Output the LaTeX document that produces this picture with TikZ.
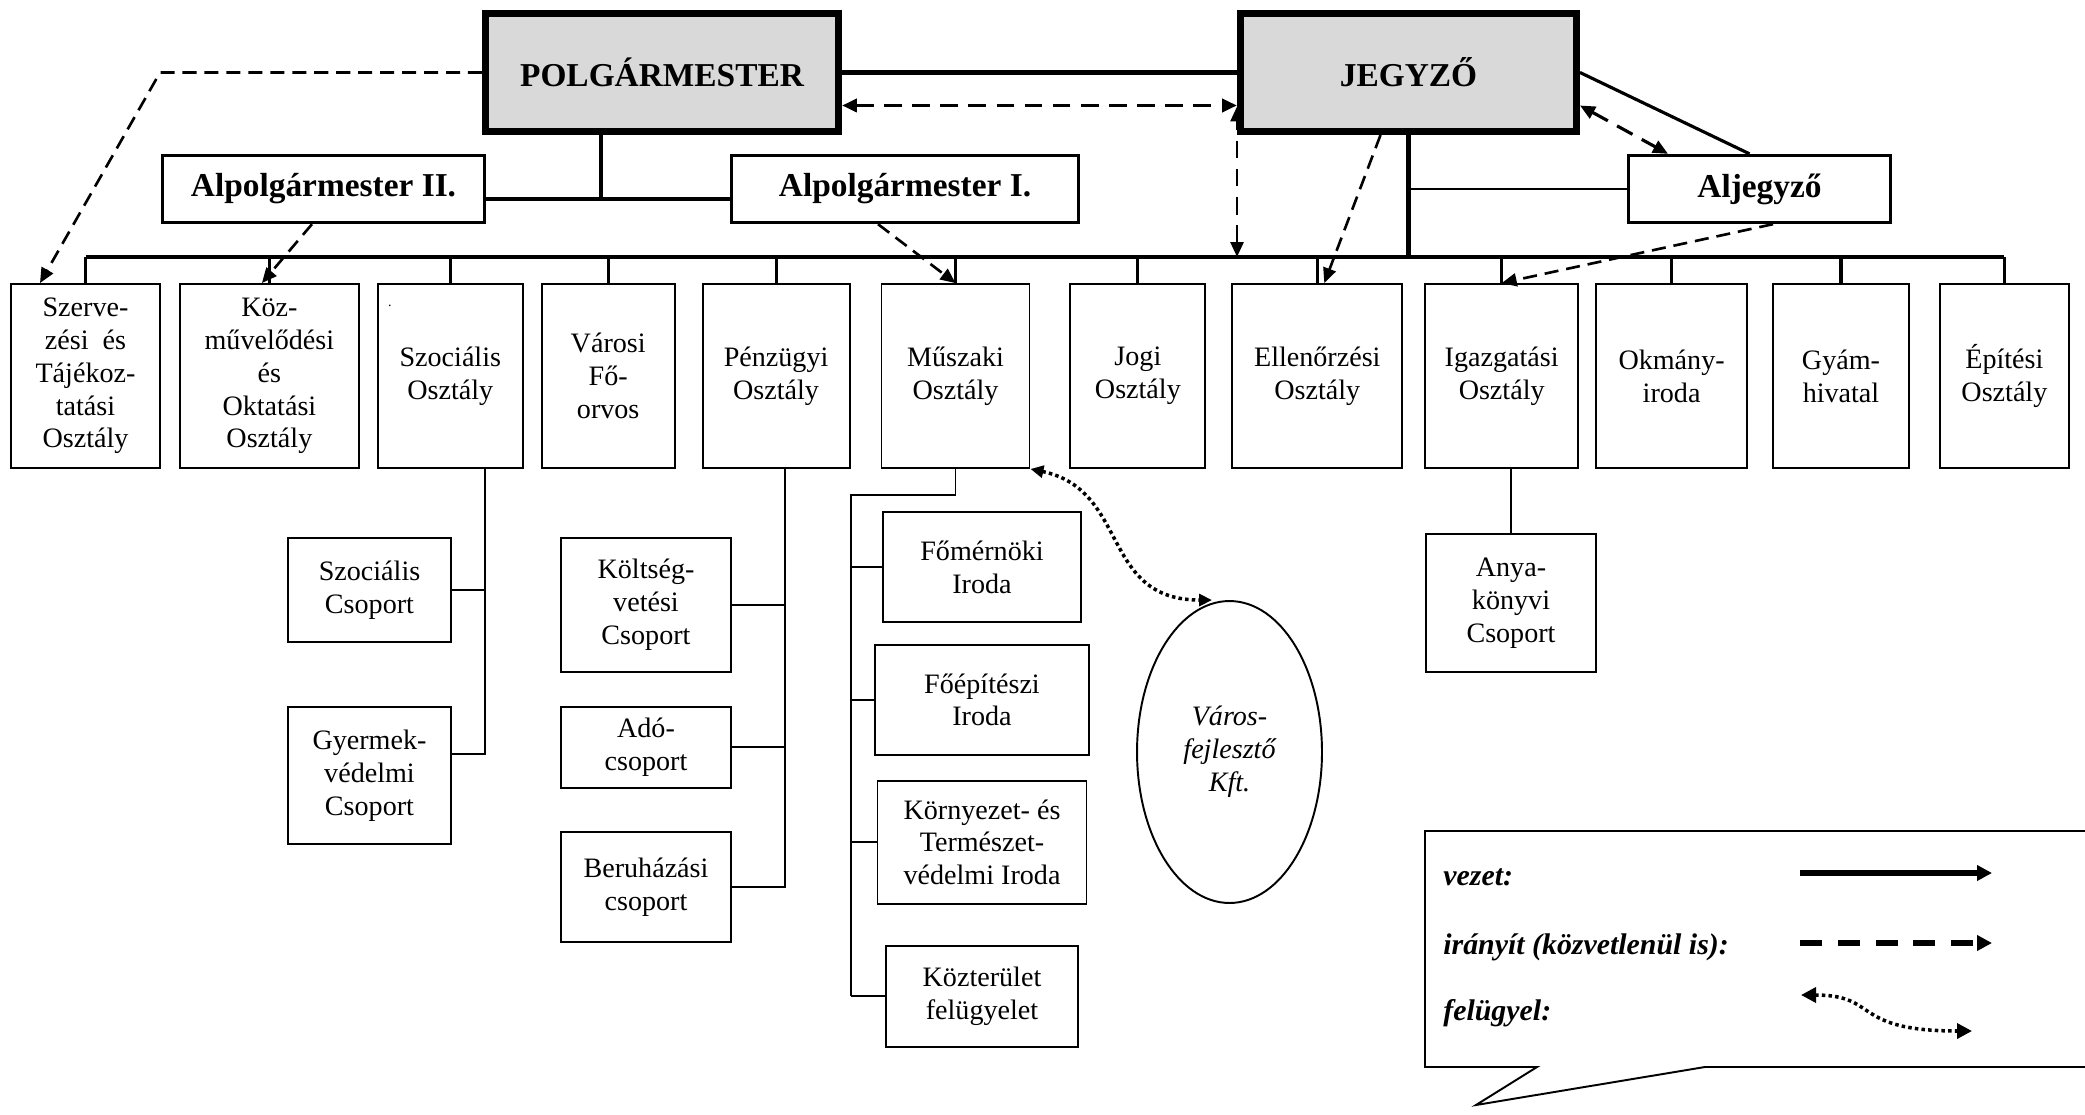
\documentclass[tikz,border=0pt]{standalone}
\usepackage{fontspec}
\setmainfont{Liberation Serif}
\usetikzlibrary{positioning,shapes.geometric,arrows.meta}
\definecolor{boxgray}{HTML}{D9D9D9}

\begin{document}
\begin{tikzpicture}[x=0.02cm, y=-0.02cm, node distance=4mm]
        \tikzstyle{every node}=[font=\fontsize{16}{18.7}\selectfont, align=center, inner sep=0pt]
        \tikzstyle{chief}=[draw, line width=4pt, fill=boxgray, minimum height=23.6mm, font=\bfseries\fontsize{19}{22}\selectfont]
        \tikzstyle{deputy}=[draw, line width=1.9pt, fill=white, minimum height=13.4mm, font=\bfseries\fontsize{19}{22}\selectfont]
        \tikzstyle{dept}=[draw, line width=1.1pt, minimum height=36.8mm]
        \tikzstyle{subbox}=[draw, line width=1.1pt]
        \tikzstyle{vezet}=[line width=1.8pt]
        \tikzstyle{ag}=[line width=1.1pt]
        \tikzstyle{iranyit}=[line width=1.5pt, dash pattern=on 8pt off 4.5pt, -{Triangle[length=3mm,width=2.6mm]}]
        \tikzstyle{iranyitboth}=[line width=2.2pt, dash pattern=on 10pt off 6pt, {Triangle[length=3mm,width=2.6mm]}-{Triangle[length=3mm,width=2.6mm]}]
        \tikzstyle{felugyel}=[line width=2pt, dash pattern=on 2pt off 1.8pt, {Triangle[length=2.6mm,width=2.4mm]}-{Triangle[length=2.6mm,width=2.4mm]}]
        \tikzstyle{legendtext}=[font=\bfseries\itshape\fontsize{17}{20}\selectfont, anchor=base west]

        \useasboundingbox (0,0) rectangle (2085,1115);

        % vezetes
        \node[chief, minimum width=70.6mm] (polg) at (662,72.5) {POLGÁRMESTER};
        \node[chief, minimum width=67.2mm] (jegy) at (1408.5,72.5) {JEGYZŐ};
        \node[deputy, minimum width=64.4mm] (alp2) at (323.5,189) {Alpolgármester II.};
        \node[deputy, minimum width=69.4mm] (alp1) at (905,189) {Alpolgármester I.};
        \node[deputy, minimum width=52.4mm] (aljegy) at (1759.5,189) {Aljegyző};

        % osztalyok
        \node[dept, minimum width=29.8mm] (szerv) at (85.5,376) {Szerve-\\zési~~és\\Tájékoz-\\tatási\\Osztály};
        \node[dept, minimum width=35.8mm, right=3.6mm of szerv] (kozm) {Köz-\\művelődési\\és\\Oktatási\\Osztály};
        \node[dept, minimum width=29mm, right=3.4mm of kozm] (szoc) {Szociális\\Osztály};
        \node[dept, minimum width=26.6mm, right=3.4mm of szoc] (varos) {Városi\\Fő-\\orvos};
        \node[dept, minimum width=29.4mm, right=5.2mm of varos] (penz) {Pénzügyi\\Osztály};
        \node[dept, minimum width=29.6mm, right=6mm of penz] (musz) {Műszaki\\Osztály};
        \node[dept, minimum width=27mm, right=7.8mm of musz] (jogi) {Jogi\\Osztály};
        \node[dept, minimum width=34mm, right=5mm of jogi] (ellen) {Ellenőrzési\\Osztály};
        \node[dept, minimum width=30.6mm, right=4.2mm of ellen] (igaz) {Igazgatási\\Osztály};
        \node[dept, minimum width=30.2mm, right=3.2mm of igaz] (okm) {Okmány-\\iroda};
        \node[dept, minimum width=27.2mm, right=4.8mm of okm] (gyam) {Gyám-\\hivatal};
        \node[dept, minimum width=25.8mm, right=5.8mm of gyam] (epit) {Építési\\Osztály};
        \node[font=\fontsize{8}{8}\selectfont] (szocdot) at (390,306) {.};

        % csoportok, irodak
        \node[subbox, minimum width=32.6mm, minimum height=20.8mm] (szcs) at (369.5,590) {Szociális\\Csoport};
        \node[subbox, minimum width=32.6mm, minimum height=27.4mm, below=12.6mm of szcs] (gyv) {Gyermek-\\védelmi\\Csoport};
        \node[subbox, minimum width=34mm, minimum height=26.8mm] (kolt) at (646,605) {Költség-\\vetési\\Csoport};
        \node[subbox, minimum width=34mm, minimum height=16.2mm, below=6.6mm of kolt] (ado) {Adó-\\csoport};
        \node[subbox, minimum width=34mm, minimum height=22mm, below=8.4mm of ado] (beruh) {Beruházási\\csoport};
        \node[subbox, minimum width=39.6mm, minimum height=22mm] (fomern) at (982,567) {Főmérnöki\\Iroda};
        \node[subbox, minimum width=42.8mm, minimum height=22mm, below=4.2mm of fomern] (foep) {Főépítészi\\Iroda};
        \node[subbox, minimum width=41.8mm, minimum height=24.6mm, below=4.8mm of foep] (korny) {Környezet- és\\Természet-\\védelmi Iroda};
        \node[subbox, minimum width=38.4mm, minimum height=20.2mm, below=8mm of korny] (kozt) {Közterület\\felügyelet};
        \node[subbox, minimum width=34mm, minimum height=27.6mm] (anyak) at (1511,603) {Anya-\\könyvi\\Csoport};
        \node[draw, ellipse, line width=1.1pt, minimum width=37mm, minimum height=60.4mm, font=\itshape\fontsize{16}{18.7}\selectfont] (kft) at (1229.5,752) {Város-\\fejlesztő\\Kft.};

        % vezet
        \coordinate (bus) at (0,257);
        \coordinate (palp) at (601,199);
        \draw[vezet, line width=2.3pt] (polg.east) -- (jegy.west);
        \draw[vezet] (palp |- polg.south) -- (palp);
        \draw[vezet] (alp2.east |- palp) -- (alp1.west |- palp);
        \draw[vezet, line width=2.5pt] (szerv.north |- bus) -- (epit.north |- bus);
        \foreach \n in {szerv,kozm,szoc,varos,penz,musz,jogi,ellen,igaz,okm,gyam,epit}
                \draw[vezet] (\n.north) -- (\n.north |- bus);
        \draw[vezet, line width=2.6pt] (jegy.south) -- (jegy.south |- bus);
        \draw[ag] (aljegy.west) -- (aljegy.west -| jegy.south);
        \draw[vezet] (jegy.east) -- ([xshift=-2mm]aljegy.north);

        \coordinate (szocdown) at ([xshift=6.9mm]szoc.south);
        \draw[ag] (szocdown) |- ([yshift=4.3mm]gyv.east);
        \draw[ag] (szcs.east) -- (szcs.east -| szocdown);
        \coordinate (penzdown) at ([xshift=1.7mm]penz.south);
        \draw[ag] (penzdown) |- (beruh.east);
        \draw[ag] (kolt.east) -- (kolt.east -| penzdown);
        \draw[ag] (ado.east) -- (ado.east -| penzdown);
        \coordinate (muszbranch) at (851,495);
        \draw[ag] (musz.south) |- (muszbranch) -- (muszbranch |- kozt.west);
        \foreach \n in {fomern,foep,korny,kozt}
                \draw[ag] (\n.west) -- (\n.west -| muszbranch);
        \draw[ag] (anyak.north |- igaz.south) -- (anyak.north);

        % iranyit
        \draw[iranyit] (polg.west) -- ++(-322,0) -- ([xshift=-9.1mm]szerv.north);
        \draw[iranyit] ([xshift=-2.3mm]alp2.south) -- ([xshift=-1.5mm]kozm.north);
        \draw[iranyit] ([xshift=-5.4mm]alp1.south) -- (musz.north);
        \draw[iranyit] ([xshift=-5.6mm]jegy.south) -- ([xshift=1.4mm]ellen.north);
        \draw[iranyit] ([xshift=2.7mm]aljegy.south) -- (igaz.north);
        \draw[iranyitboth] ([yshift=-6.6mm]polg.east) -- ([yshift=-6.6mm]jegy.west);
        \draw[iranyitboth, line width=1.6pt] (jegy.west |- bus) -- ([yshift=-6.8mm]jegy.west);
        \draw[iranyitboth, line width=1.8pt] ([yshift=-6.6mm]jegy.east) -- ([xshift=-18.3mm]aljegy.north);

        % felugyel
        \draw[felugyel] (musz.south east) .. controls (1130,490) and (1100,600) .. ([xshift=-3.5mm]kft.north);

        % jelmagyarazat
        \draw[line width=1.1pt] (2085,831) -- (1425,831) -- (1425,1067) -- (1537,1067) -- (1476,1105) -- (1705,1067) -- (2085,1067);
        \node[legendtext] (lvezet) at (1443,885) {vezet:};
        \node[legendtext] (liranyit) at (1443,954) {irányít (közvetlenül is):};
        \node[legendtext] (lfelugyel) at (1443,1020) {felügyel:};
        \coordinate (lv1) at (1800,873);
        \coordinate (lv2) at (1992,873);
        \coordinate (li1) at (1800,943);
        \coordinate (li2) at (1992,943);
        \coordinate (lf1) at (1801,995);
        \coordinate (lf2) at (1972,1031);
        \draw[line width=3.4pt, -{Triangle[length=3mm,width=3mm]}] (lv1) -- (lv2);
        \draw[line width=3.4pt, dash pattern=on 12.5pt off 9pt, -{Triangle[length=3mm,width=3mm]}] (li1) -- (li2);
        \draw[felugyel, {Triangle[length=3mm,width=3mm]}-{Triangle[length=3mm,width=3mm]}] (lf1) .. controls (1880,995) and (1850,1031) .. (lf2);
\end{tikzpicture}
\end{document}
